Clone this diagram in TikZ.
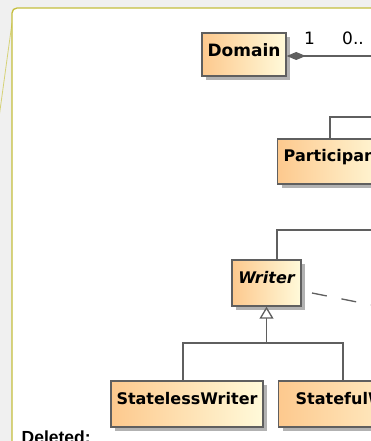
\documentclass[tikz,border=0pt]{standalone}
\usepackage{fontspec}
\newfontfamily\umlfont{DejaVu Sans}
\newfontfamily\notefont{Liberation Sans}
\usepackage{xcolor}
\definecolor{paper}{RGB}{240,240,240}
\definecolor{frameolive}{RGB}{196,190,60}
\definecolor{boxline}{RGB}{95,95,95}
\definecolor{boxleft}{RGB}{253,201,142}
\definecolor{boxright}{RGB}{255,250,218}
\usepackage{tikz}
\usetikzlibrary{shapes,arrows.meta,shadows}

\tikzset{
  umlclass/.style={draw=boxline, line width=1.4pt, left color=boxleft, right color=boxright,
    drop shadow={shadow xshift=4pt, shadow yshift=-4pt, fill=black!30, opacity=1},
    font=\umlfont\bfseries\fontsize{16}{18}\selectfont, inner sep=0pt, minimum height=46pt,
    text height=6pt, text depth=6pt},
  umlline/.style={draw=boxline, line width=1.3pt},
}

\begin{document}
\begin{tikzpicture}[x=1pt, y=-1pt]
    \useasboundingbox (0,0) rectangle (371,441);
    \clip (0,0) rectangle (371,441);
    \fill[paper] (0,0) rectangle (371,441);

    %  frame of the diagram and the note line
    \draw[frameolive!70, line width=0.8pt] (12,23) -- (-2,125);
    \draw[draw=frameolive, line width=1.3pt, fill=white, rounded corners=5pt] (12,470) rectangle (400,8);

    %  classes
    \node[umlclass, minimum width=84pt, minimum height=43pt, text height=8.5pt, text depth=3.5pt,
      font=\umlfont\bfseries\fontsize{17}{19}\selectfont] (Domain) at (244,54.5) {Domain};
    \node[umlclass, anchor=west, inner xsep=6pt, minimum height=45pt] (Participant) at (277,161.5) {Participant};
    \node[umlclass, minimum width=69pt] (Writer) at (266.5,283) {\itshape Writer};
    \node[umlclass, minimum width=152pt] (StatelessWriter) at (187,404) {StatelessWriter};
    \node[umlclass, anchor=west, inner xsep=17pt] (StatefulWriter) at (278,404) {StatefulWriter};

    %  composition from Domain
    \coordinate (domainEnd) at (400,56);
    \draw[umlline, {Diamond[length=19pt, width=8pt, fill=boxline]}-] (Domain.east |- domainEnd) -- (domainEnd);
    \node[font=\umlfont\fontsize{17}{19}\selectfont] (multOne) at (309.5,38.5) {1};
    \node[font=\umlfont\fontsize{17}{19}\selectfont, anchor=west, inner sep=0pt] (multMany) at (342,38.5) {0..};

    %  Participant up to its parent
    \coordinate (partUp) at (330,117);
    \coordinate (partEnd) at (400,117);
    \draw[umlline] (Participant.north -| partUp) -- (partUp) -- (partEnd);

    %  Writer up to its parent
    \coordinate (writerUp) at (277,230);
    \coordinate (writerEnd) at (400,230);
    \draw[umlline] (Writer.north -| writerUp) -- (writerUp) -- (writerEnd);

    %  dashed line from Writer
    \coordinate (depStart) at (312,293);
    \coordinate (depEnd) at (400,310.6);
    \draw[umlline, dash pattern=on 15pt off 15pt] (depStart) -- (depEnd);

    %  generalization tree
    \coordinate (genBus) at (Writer.south |- 0,343);
    \draw[umlline, -{Triangle[open, length=12pt, width=14pt, fill=white]}] (genBus) -- (Writer.south);
    \draw[umlline] (StatelessWriter.north -| 183,0) |- (genBus) -| (StatefulWriter.north -| 343,0);

    \node[font=\notefont\bfseries\fontsize{17.5}{20}\selectfont, anchor=base west, inner sep=0pt] (deleted) at (21.5,443.5) {Deleted:};
\end{tikzpicture}
\end{document}
